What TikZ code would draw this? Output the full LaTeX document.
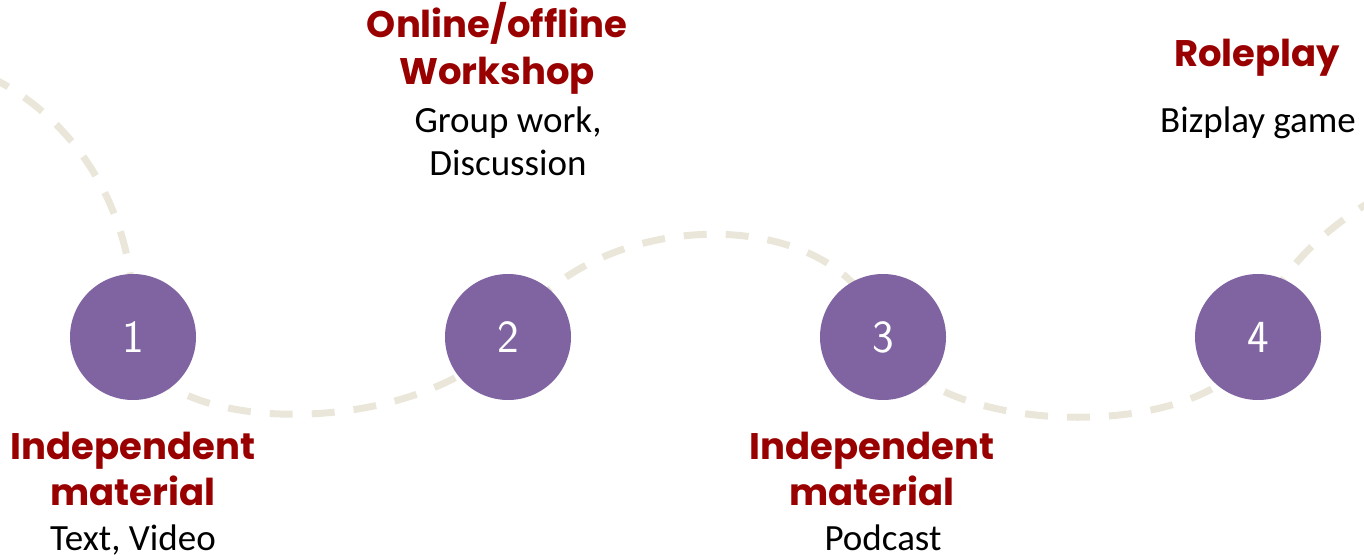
\documentclass[tikz,border=0pt]{standalone}
\usepackage{fontspec}
\setmainfont{Carlito}
\newfontfamily\headfont{Poppins}
\usetikzlibrary{backgrounds}
\definecolor{stepPurple}{HTML}{8064A2}
\definecolor{headRed}{HTML}{990000}
\definecolor{pathTan}{HTML}{EAE7DA}
\tikzset{
  stepcircle/.style={circle, fill=stepPurple, draw=none, minimum size=126pt, inner sep=0pt,
    text=white, font=\sffamily\fontsize{46}{46}\selectfont},
  headline/.style={anchor=base, text=headRed, inner sep=0pt, font=\headfont\bfseries\fontsize{37}{37}\selectfont},
  bodyline/.style={anchor=base, text=black, inner sep=0pt, font=\fontsize{37}{37}\selectfont},
  trail/.style={draw=pathTan, line width=7pt, dash pattern=on 23pt off 19pt},
}
\begin{document}
\begin{tikzpicture}[x=1pt,y=-1pt]
\useasboundingbox (0,0) rectangle (1364,559);
\node[stepcircle] (c1) at (133,337) {1};
\node[stepcircle] (c2) at (508,337) {2};
\node[stepcircle] (c3) at (883,337) {3};
\node[stepcircle] (c4) at (1258,337) {4};
\coordinate (tstart) at (-12,76);
\coordinate (tend) at (1380,196);
\begin{scope}[on background layer]
\draw[trail] (tstart) .. controls (80,120) and (140,220) .. (c1.center);
\draw[trail] (c1.center) .. controls (150,440) and (420,440) .. (c2.center);
\draw[trail] (c2.center) .. controls (590,200) and (850,200) .. (c3.center);
\draw[trail] (c3.center) .. controls (930,444) and (1230,444) .. (c4.center);
\draw[trail] (c4.center) .. controls (1265,290) and (1310,236) .. (tend);
\end{scope}
% step 1
\node[headline] (h1a) at (133,459) {Independent};
\node[headline] (h1b) at (133,505) {material};
\node[bodyline] (b1) at (133,550) {Text, Video};
% step 2
\node[headline] (h2a) at (497,38) {Online/offline};
\node[headline] (h2b) at (497,85) {Workshop};
\node[bodyline] (b2a) at (508,132) {Group work,};
\node[bodyline] (b2b) at (508,175) {Discussion};
% step 3
\node[headline] (h3a) at (872,459) {Independent};
\node[headline] (h3b) at (872,505) {material};
\node[bodyline] (b3) at (883,550) {Podcast};
% step 4
\node[headline] (h4) at (1257,67) {Roleplay};
\node[bodyline] (b4) at (1258,132) {Bizplay game};
\end{tikzpicture}
\end{document}
